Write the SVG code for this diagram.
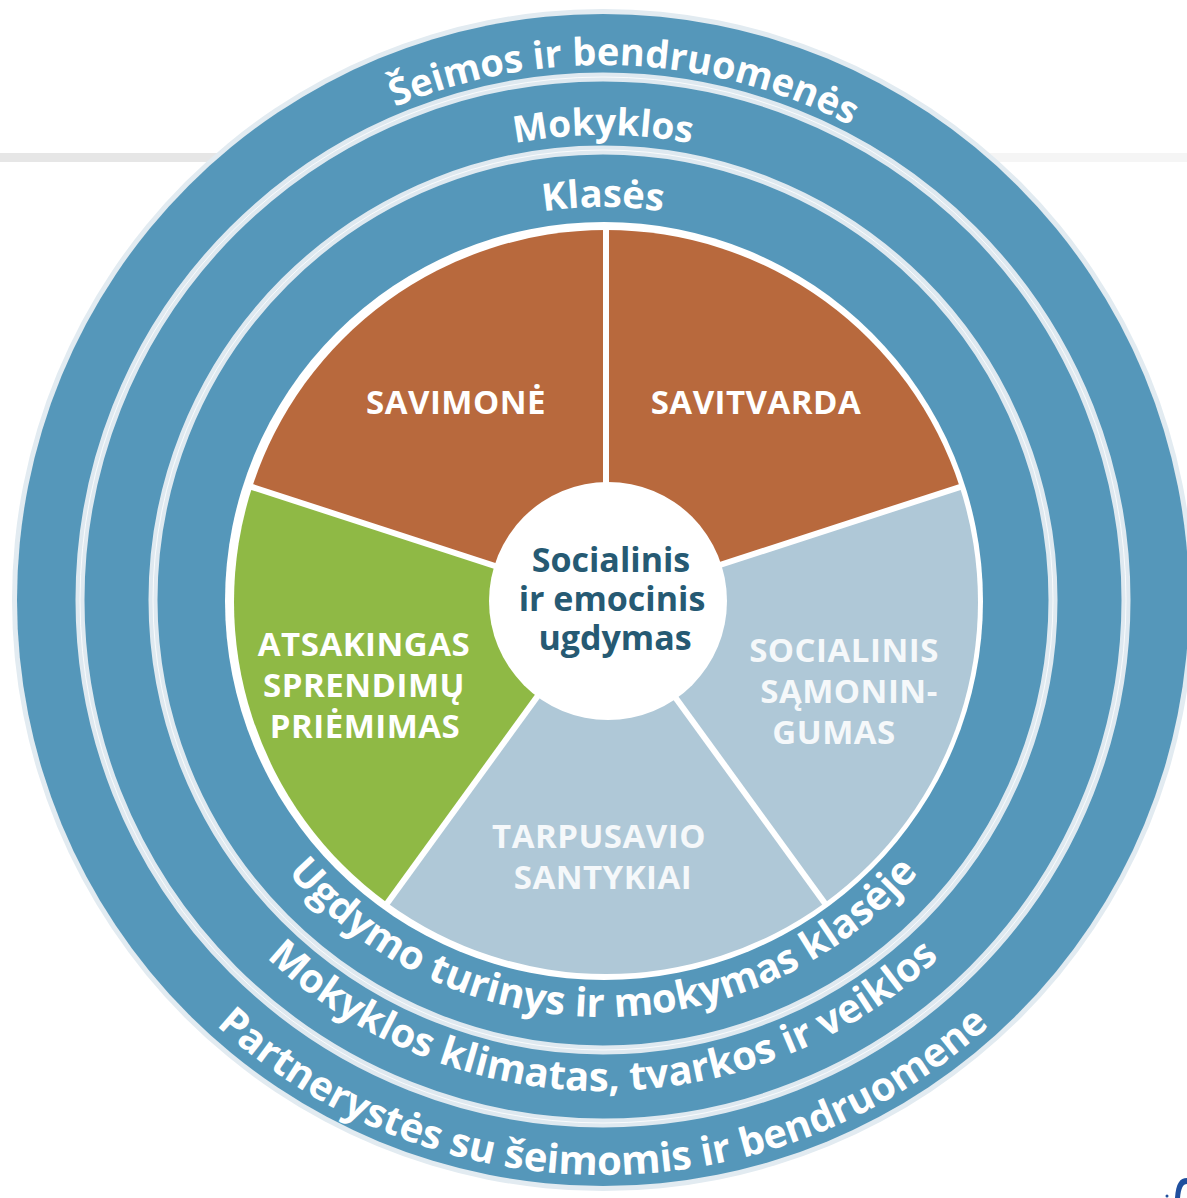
<svg xmlns="http://www.w3.org/2000/svg" width="1187" height="1198" viewBox="0 0 1187 1198">
  <style>
    .ring { font-family: "Open Sans", "Noto Sans", "Liberation Sans", sans-serif; font-weight: 700; font-size: 38px; fill: #ffffff; }
    .ringb { font-size: 40px; }
    .lbl { font-family: "Open Sans", "Noto Sans", "Liberation Sans", sans-serif; font-weight: 700; font-size: 33px; fill: #ffffff; text-anchor: middle; letter-spacing: 0.5px; }
    .lbl-lt { fill: #f5f8fa; }
    .ctr { font-family: "Open Sans", "Noto Sans", "Liberation Sans", sans-serif; font-weight: 700; font-size: 34px; fill: #265a73; text-anchor: middle; }
    .gap { fill: none; stroke: #dfe9f0; stroke-width: 9; }
    .gapline { fill: none; stroke: #ffffff; stroke-width: 1; opacity: 0.8; }
    .sep { stroke: #ffffff; stroke-width: 6; stroke-linecap: butt; }
  </style>
  <defs>
    <path id="pTop1" d="M 68 600 A 535 535 0 0 1 1138 600"/>
    <path id="pTop2" d="M 138 600 A 465 465 0 0 1 1068 600"/>
    <path id="pTop3" d="M 210 600 A 393 393 0 0 1 996 600"/>
    <path id="pBot1" d="M 28 600 A 575 575 0 0 0 1178 600"/>
    <path id="pBot2" d="M 112 600 A 491 491 0 0 0 1094 600"/>
    <path id="pBot3" d="M 186 600 A 417 417 0 0 0 1020 600"/>
  </defs>

  <rect width="1187" height="1198" fill="#ffffff"/>
  <rect x="0" y="153" width="603" height="9" fill="#e6e6e6"/>
  <rect x="603" y="153" width="584" height="9" fill="#f5f5f5"/>

  <g id="ring-family">
    <circle cx="603" cy="600" r="591" fill="#e2ebf1"/>
    <circle cx="603" cy="600" r="586" fill="#5597ba"/>
    <text class="ring"><textPath href="#pTop1" startOffset="51.3%" text-anchor="middle">Šeimos ir bendruomenės</textPath></text>
    <text class="ring ringb"><textPath href="#pBot1" startOffset="50%" text-anchor="middle">Partnerystės su šeimomis ir bendruomene</textPath></text>
  </g>
  <g id="ring-school">
    <circle class="gap" cx="603" cy="600" r="523"/>
    <circle class="gapline" cx="603" cy="600" r="523"/>
    <text class="ring" style="font-size:37px"><textPath href="#pTop2" startOffset="50%" text-anchor="middle">Mokyklos</textPath></text>
    <text class="ring ringb"><textPath href="#pBot2" startOffset="50%" text-anchor="middle">Mokyklos klimatas, tvarkos ir veiklos</textPath></text>
  </g>
  <g id="ring-class">
    <circle class="gap" cx="603" cy="600" r="450"/>
    <circle class="gapline" cx="603" cy="600" r="450"/>
    <text class="ring"><textPath href="#pTop3" startOffset="50%" text-anchor="middle">Klasės</textPath></text>
    <text class="ring ringb"><textPath href="#pBot3" startOffset="50%" text-anchor="middle">Ugdymo turinys ir mokymas klasėje</textPath></text>
    <circle cx="604" cy="601" r="379" fill="#ffffff"/>
  </g>

  <g id="wedge-savitvarda">
    <path d="M 606 602 L 606 230 A 372 372 0 0 1 959.79 487.04 Z" fill="#b8693d"/>
    <text class="lbl" x="756" y="414">SAVITVARDA</text>
  </g>
  <g id="wedge-socialinis">
    <path d="M 606 602 L 959.79 487.04 A 372 372 0 0 1 824.66 902.95 Z" fill="#afc8d7"/>
    <text class="lbl lbl-lt" x="844" y="662">SOCIALINIS</text>
    <text class="lbl lbl-lt" x="849" y="703">SĄMONIN-</text>
    <text class="lbl lbl-lt" x="834" y="744">GUMAS</text>
  </g>
  <g id="wedge-tarpusavio">
    <path d="M 606 602 L 824.66 902.95 A 372 372 0 0 1 387.34 902.95 Z" fill="#afc8d7"/>
    <text class="lbl lbl-lt" x="599" y="848">TARPUSAVIO</text>
    <text class="lbl lbl-lt" x="603" y="889">SANTYKIAI</text>
  </g>
  <g id="wedge-atsakingas">
    <path d="M 606 602 L 387.34 902.95 A 372 372 0 0 1 252.21 487.04 Z" fill="#8fb945"/>
    <text class="lbl" x="364" y="656">ATSAKINGAS</text>
    <text class="lbl" x="364" y="697">SPRENDIMŲ</text>
    <text class="lbl" x="365" y="738">PRIĖMIMAS</text>
  </g>
  <g id="wedge-savimone">
    <path d="M 606 602 L 252.21 487.04 A 372 372 0 0 1 606 230 Z" fill="#b8693d"/>
    <text class="lbl" x="456" y="414">SAVIMONĖ</text>
  </g>

  <g id="separators">
    <line class="sep" x1="606" y1="602" x2="606" y2="226"/>
    <line class="sep" x1="606" y1="602" x2="963.6" y2="485.8"/>
    <line class="sep" x1="606" y1="602" x2="827" y2="906.2"/>
    <line class="sep" x1="606" y1="602" x2="385" y2="906.2"/>
    <line class="sep" x1="606" y1="602" x2="248.4" y2="485.8"/>
  </g>

  <g id="center">
    <circle cx="608" cy="601" r="119" fill="#ffffff"/>
    <text class="ctr" x="611" y="572">Socialinis</text>
    <text class="ctr" x="612" y="611">ir emocinis</text>
    <text class="ctr" x="615" y="650">ugdymas</text>
  </g>

  <g id="corner-fragment">
    <path d="M 1187 1178 C 1180 1178 1176 1183 1175 1198 L 1180 1198 C 1181 1188 1183 1184 1187 1184 Z" fill="#1f4f9e"/>
    <circle cx="1167" cy="1196" r="1.5" fill="#1f4f9e"/>
  </g>
</svg>
